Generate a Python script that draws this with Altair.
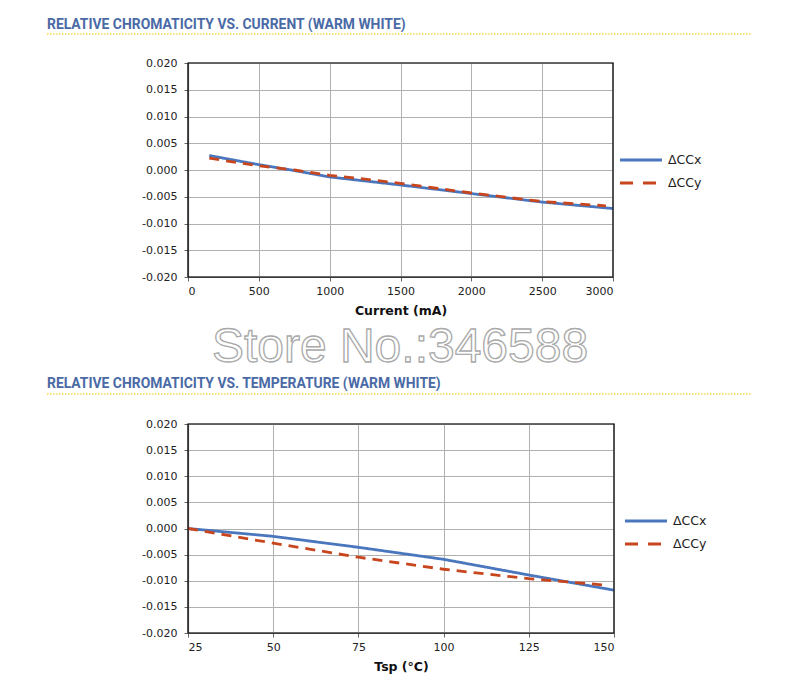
import altair as alt
import pandas as pd

series = ["ΔCCx", "ΔCCy"]
colors = ["#4a76bd", "#c8461e"]

# Chart 1: relative chromaticity vs. current
cur_x_ma = [150, 500, 750, 1000, 1500, 2000, 2500, 3000]
cur_ccx = [0.0027, 0.0010, -0.0001, -0.0013, -0.0028, -0.0044, -0.0060, -0.0072]
cur_y_ma = [150, 500, 750, 1000, 1250, 1500, 2000, 2500, 2950]
cur_ccy = [0.0022, 0.0008, 0.0000, -0.0010, -0.0017, -0.0025, -0.0043, -0.0059, -0.0067]

# Chart 2: relative chromaticity vs. temperature
tsp_x_c = [25, 50, 75, 100, 125, 150]
tsp_ccx = [0.0, -0.0015, -0.0036, -0.0059, -0.0089, -0.0118]
tsp_y_c = [25, 50, 75, 100, 125, 147]
tsp_ccy = [0.0, -0.0028, -0.0055, -0.0078, -0.0096, -0.0108]

y_ticks = [-0.02, -0.015, -0.01, -0.005, 0.0, 0.005, 0.01, 0.015, 0.02]
cur_ticks = [0, 500, 1000, 1500, 2000, 2500, 3000]
tsp_ticks = [25, 50, 75, 100, 125, 150]

title1 = "RELATIVE CHROMATICITY VS. CURRENT (WARM WHITE)"
title2 = "RELATIVE CHROMATICITY VS. TEMPERATURE (WARM WHITE)"
watermark = "Store No.:346588"


def long_df(xa, ya, xb, yb):
    a = pd.DataFrame({"x": xa, "y": ya, "series": series[0]})
    b = pd.DataFrame({"x": xb, "y": yb, "series": series[1]})
    return pd.concat([a, b], ignore_index=True)


TITLE_FONT = "Roboto"
LABEL_FONT = "DejaVu Sans"


def panel(df, xdom, xvals, xtitle, title, w, h, rule_end, dot_y, title_y, bottom_mark, top_mark,
          leg_dx, extra=None):
    lines = alt.Chart(df).mark_line(strokeWidth=2.8).encode(
        x=alt.X("x:Q", scale=alt.Scale(domain=xdom, nice=False, zero=False),
                axis=alt.Axis(values=xvals, title=xtitle, format="d")),
        y=alt.Y("y:Q", scale=alt.Scale(domain=[-0.02, 0.02], nice=False),
                axis=alt.Axis(values=y_ticks, title=None,
                              labelExpr="replace(format(datum.value, '.3f'), '\u2212', '-')")),
        color=alt.Color("series:N", scale=alt.Scale(domain=series, range=colors), legend=None),
        strokeDash=alt.StrokeDash("series:N", scale=alt.Scale(domain=series, range=[[1, 0], [10, 7]]),
                                  legend=None),
        detail="series:N",
    )
    border = alt.Chart().mark_rect(fill=None, stroke="#111", strokeWidth=1.2).encode(
        x=alt.value(0), x2=alt.value(w), y=alt.value(0), y2=alt.value(h))
    ttl = alt.Chart().mark_text(align="left", baseline="middle", font=TITLE_FONT, fontSize=13.9,
                                fontWeight="bold", color="#4a6aa6").encode(
        x=alt.value(-141), y=alt.value(title_y), text=alt.value(title))
    dots = alt.Chart().mark_rule(color="#eed84a", strokeWidth=1.6, strokeDash=[1.5, 1.5]).encode(
        x=alt.value(-141), x2=alt.value(rule_end), y=alt.value(dot_y))
    leg_l1 = alt.Chart().mark_rule(color=colors[0], strokeWidth=3).encode(
        x=alt.value(w + leg_dx), x2=alt.value(w + leg_dx + 42), y=alt.value(97))
    leg_l2 = alt.Chart().mark_rule(color=colors[1], strokeWidth=3, strokeDash=[13, 10]).encode(
        x=alt.value(w + leg_dx), x2=alt.value(w + leg_dx + 39), y=alt.value(120))
    leg_t1 = alt.Chart().mark_text(align="left", baseline="middle", font=LABEL_FONT, fontSize=12.5,
                                   color="#222").encode(
        x=alt.value(w + leg_dx + 48), y=alt.value(97), text=alt.value(series[0]))
    leg_t2 = alt.Chart().mark_text(align="left", baseline="middle", font=LABEL_FONT, fontSize=12.5,
                                   color="#222").encode(
        x=alt.value(w + leg_dx + 48), y=alt.value(120), text=alt.value(series[1]))
    m_top = alt.Chart().mark_rule(color="white", strokeWidth=1).encode(
        x=alt.value(-178), y=alt.value(top_mark), y2=alt.value(top_mark + 1))
    m_bot = alt.Chart().mark_rule(color="white", strokeWidth=1).encode(
        x=alt.value(-178), y=alt.value(bottom_mark - 1), y2=alt.value(bottom_mark))
    layers = [lines, border, ttl, dots, leg_l1, leg_l2, leg_t1, leg_t2, m_top, m_bot]
    if extra is not None:
        layers.append(extra)
    return alt.layer(*layers).properties(width=w, height=h)


wm = alt.Chart().mark_text(align="center", baseline="alphabetic", font="Liberation Sans",
                           fontSize=48, fill="white", stroke="#a9a9a9", strokeWidth=1.3).encode(
    x=alt.value(212), y=alt.value(299), text=alt.value(watermark))

top = panel(long_df(cur_x_ma, cur_ccx, cur_y_ma, cur_ccy), [0, 3000], cur_ticks, "Current (mA)",
            title1, 425, 214, 564, -29, -38.5, 310, -53, 7, extra=wm)
bottom = panel(long_df(tsp_x_c, tsp_ccx, tsp_y_c, tsp_ccy), [25, 150], tsp_ticks, "Tsp (°C)",
               title2, 426, 209, 564, -30, -40, 250, -47.5, 11)

chart = alt.vconcat(top, bottom, spacing=0).properties(
    padding=0, background="white"
).configure_view(
    stroke="#111", strokeWidth=1.2
).configure_axis(
    grid=True, gridColor="#b0b0b0", gridWidth=1,
    domainColor="#666", domainWidth=1.2, tickColor="#666", tickSize=4,
    labelFont=LABEL_FONT, labelFontSize=11, labelColor="#222", labelPadding=4,
    titleFont=LABEL_FONT, titleFontSize=12.5, titleFontWeight="bold", titleColor="#111",
    titlePadding=8.5,
).configure_axisY(labelPadding=7)

chart.save("out.html", embed_options={"renderer": "svg", "actions": False})
